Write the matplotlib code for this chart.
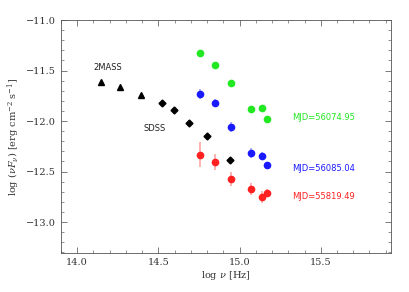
import matplotlib
matplotlib.use("Agg")
import matplotlib.pyplot as plt
from matplotlib.ticker import MultipleLocator

# 2MASS (J, H, K) and SDSS photometry
tmass_x = [14.147, 14.262, 14.390]
tmass_y = [-11.61, -11.66, -11.74]
sdss_x = [14.520, 14.595, 14.687, 14.800, 14.942]
sdss_y = [-11.817, -11.893, -12.015, -12.153, -12.384]

# Swift/UVOT epochs
uvot_x = [14.757, 14.851, 14.950, 15.069, 15.141, 15.168]
green_y = [-11.323, -11.445, -11.623, -11.886, -11.876, -11.982]
green_err = [0.02, 0.02, 0.02, 0.02, 0.02, 0.02]
blue_y = [-11.731, -11.824, -12.061, -12.321, -12.344, -12.433]
blue_err = [0.05, 0.04, 0.05, 0.05, 0.04, 0.03]
red_y = [-12.334, -12.410, -12.578, -12.677, -12.750, -12.717]
red_err = [0.125, 0.08, 0.07, 0.06, 0.06, 0.04]

epochs = [("MJD=56074.95", green_y, green_err, "#22e822", -11.97),
          ("MJD=56085.04", blue_y, blue_err, "#1a1aff", -12.47),
          ("MJD=55819.49", red_y, red_err, "#ff2020", -12.745)]

plt.rcParams["font.family"] = ["DejaVu Serif"]
plt.rcParams["mathtext.fontset"] = "dejavuserif"

fig = plt.figure(figsize=(4.09, 2.92), dpi=100)
ax = fig.add_axes([0.149, 0.1325, 0.806, 0.799])

ax.plot(tmass_x, tmass_y, "^", color="black", ms=3.8)
ax.plot(sdss_x, sdss_y, "D", color="black", ms=3.5)
for label, ys, err, c, ty in epochs:
    ax.errorbar(uvot_x, ys, yerr=err, fmt="none", ecolor=c, alpha=0.4, lw=1.2)
    ax.plot(uvot_x, ys, "o", color=c, ms=4.5)
    ax.text(15.323, ty, label, color=c, fontsize=6, family="DejaVu Sans",
            va="center", ha="left")

ax.text(14.19, -11.47, "2MASS", fontsize=6, family="DejaVu Sans", ha="center",
        va="center", color="#222222")
ax.text(14.475, -12.07, "SDSS", fontsize=6, family="DejaVu Sans", ha="center",
        va="center", color="#222222")

ax.set_xlim(13.9, 15.93)
ax.set_ylim(-13.31, -11.0)
ax.xaxis.set_major_locator(MultipleLocator(0.5))
ax.xaxis.set_minor_locator(MultipleLocator(0.1))
ax.yaxis.set_major_locator(MultipleLocator(0.5))
ax.yaxis.set_minor_locator(MultipleLocator(0.1))
ax.tick_params(which="both", direction="in", top=True, right=True, labelsize=7,
               color="#666666", labelcolor="#333333")
ax.tick_params(which="major", length=4, width=0.6)
ax.tick_params(which="minor", length=2, width=0.5)
for s in ax.spines.values():
    s.set_linewidth(0.6)
    s.set_color("#555555")
ax.yaxis.set_major_formatter(matplotlib.ticker.FuncFormatter(lambda v, p: f"\u2212{abs(v):.1f}"))

ax.set_xlabel(r"log $\nu$ [Hz]", fontsize=7, labelpad=1, color="#333333")
ax.set_ylabel(r"log $(\nu F_\nu)$ [erg cm$^{-2}$ s$^{-1}$]", fontsize=7, labelpad=3,
              color="#333333")

fig.savefig("out.png", dpi=100)
